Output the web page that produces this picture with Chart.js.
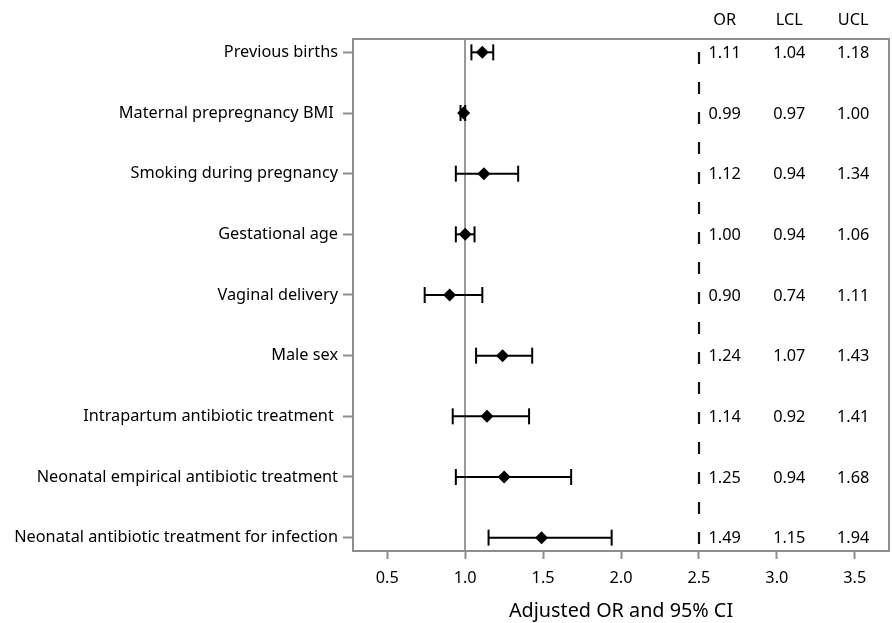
<!DOCTYPE html>
<html>
<head>
<meta charset="utf-8">
<script src="https://cdn.jsdelivr.net/npm/chart.js@4.4.0/dist/chart.umd.min.js"></script>
<style>
  html, body { margin: 0; padding: 0; background: #fff; }
  canvas { display: block; }
</style>
</head>
<body>
<canvas id="forest" width="892" height="623"></canvas>
<script>
// Data
const factors = [
  'Previous births',
  'Maternal prepregnancy BMI ',
  'Smoking during pregnancy',
  'Gestational age',
  'Vaginal delivery',
  'Male sex',
  'Intrapartum antibiotic treatment ',
  'Neonatal empirical antibiotic treatment',
  'Neonatal antibiotic treatment for infection'
];
const oddsRatio = [1.11, 0.99, 1.12, 1.00, 0.90, 1.24, 1.14, 1.25, 1.49];
const lowerCL = [1.04, 0.97, 0.94, 0.94, 0.74, 1.07, 0.92, 0.94, 1.15];
const upperCL = [1.18, 1.00, 1.34, 1.06, 1.11, 1.43, 1.41, 1.68, 1.94];
const xTicks = [0.5, 1.0, 1.5, 2.0, 2.5, 3.0, 3.5];
const tableHeaders = ['OR', 'LCL', 'UCL'];

const FONT = '"Noto Sans", "Open Sans", sans-serif';
const GRAY = '#8e8e8e';

// reference lines, frame and the OR/LCL/UCL text table
const forestExtras = {
  id: 'forestExtras',
  beforeDatasetsDraw(chart, args, opts) {
    const { ctx, chartArea: a, scales: { x } } = chart;
    ctx.save();
    const xr = Math.round(x.getPixelForValue(opts.refValue));
    ctx.strokeStyle = '#9a9a9a';
    ctx.lineWidth = 2;
    ctx.beginPath();
    ctx.moveTo(xr, a.top);
    ctx.lineTo(xr, a.bottom);
    ctx.stroke();

    const xd = Math.round(x.getPixelForValue(opts.splitValue));
    ctx.strokeStyle = '#111';
    ctx.lineWidth = 2.2;
    ctx.setLineDash([12, 18]);
    ctx.lineDashOffset = 17;
    ctx.beginPath();
    ctx.moveTo(xd, a.top);
    ctx.lineTo(xd, a.bottom);
    ctx.stroke();
    ctx.restore();
  },
  afterDatasetsDraw(chart, args, opts) {
    const { ctx, chartArea: a, scales: { x, y } } = chart;
    ctx.save();
    ctx.strokeStyle = GRAY;
    ctx.lineWidth = 2;
    ctx.strokeRect(a.left, a.top, a.width, a.height);

    ctx.fillStyle = '#000';
    ctx.font = '16.3px ' + FONT;
    ctx.textAlign = 'center';
    ctx.textBaseline = 'middle';
    const cols = [oddsRatio, lowerCL, upperCL];
    opts.columns.forEach((cv, c) => {
      const cx = x.getPixelForValue(cv);
      ctx.fillText(tableHeaders[c], cx, a.top - 19);
      cols[c].forEach((v, i) => {
        ctx.fillText(v.toFixed(2), cx, y.getPixelForValue(i) + 1);
      });
    });
    ctx.restore();
  }
};

// one small line dataset per row for the confidence interval
const ciSets = factors.map((f, i) => ({
  type: 'line',
  data: [{ x: lowerCL[i], y: i }, { x: upperCL[i], y: i }],
  borderColor: '#000',
  borderWidth: 2,
  pointStyle: 'line',
  pointRotation: 90,
  pointRadius: 8,
  pointBorderWidth: 2,
  pointBorderColor: '#000',
  pointHoverRadius: 8
}));

new Chart(document.getElementById('forest'), {
  type: 'scatter',
  data: {
    datasets: [
      {
        data: oddsRatio.map((v, i) => ({ x: v, y: i })),
        pointStyle: 'rectRot',
        pointRadius: 6.5,
        pointHoverRadius: 6.5,
        backgroundColor: '#000',
        borderColor: '#000',
        borderWidth: 0
      },
      ...ciSets
    ]
  },
  options: {
    responsive: false,
    animation: false,
    layout: { autoPadding: false, padding: { top: 39, right: 3, left: 0, bottom: 0 } },
    plugins: {
      legend: { display: false },
      tooltip: { enabled: false },
      forestExtras: { refValue: 1.0, splitValue: 2.5, columns: [2.665, 3.08, 3.49] }
    },
    scales: {
      x: {
        type: 'linear',
        min: 0.28,
        max: 3.72,
        afterBuildTicks: (s) => { s.ticks = xTicks.map(v => ({ value: v })); },
        afterFit: (s) => { s.height = 72; s.paddingLeft = 0; s.paddingRight = 0; },
        grid: { drawOnChartArea: false, tickLength: 8, tickColor: GRAY, tickWidth: 2 },
        border: { display: false },
        ticks: {
          color: '#000',
          font: { family: FONT, size: 16.3 },
          padding: 10,
          maxRotation: 0,
          callback: v => v.toFixed(1)
        },
        title: {
          display: true,
          text: 'Adjusted OR and 95% CI',
          color: '#000',
          font: { family: FONT, size: 19.8 },
          padding: { top: 4, bottom: 0 }
        }
      },
      y: {
        type: 'linear',
        reverse: true,
        min: -0.22,
        max: 8.22,
        afterBuildTicks: (s) => { s.ticks = factors.map((f, i) => ({ value: i })); },
        afterFit: (s) => { s.width = 353; },
        grid: { drawOnChartArea: false, tickLength: 10, tickColor: GRAY, tickWidth: 2 },
        border: { display: false },
        ticks: {
          color: '#000',
          font: { family: FONT, size: 16.3 },
          padding: 5,
          callback: v => factors[v]
        }
      }
    }
  },
  plugins: [forestExtras]
});
</script>
</body>
</html>
